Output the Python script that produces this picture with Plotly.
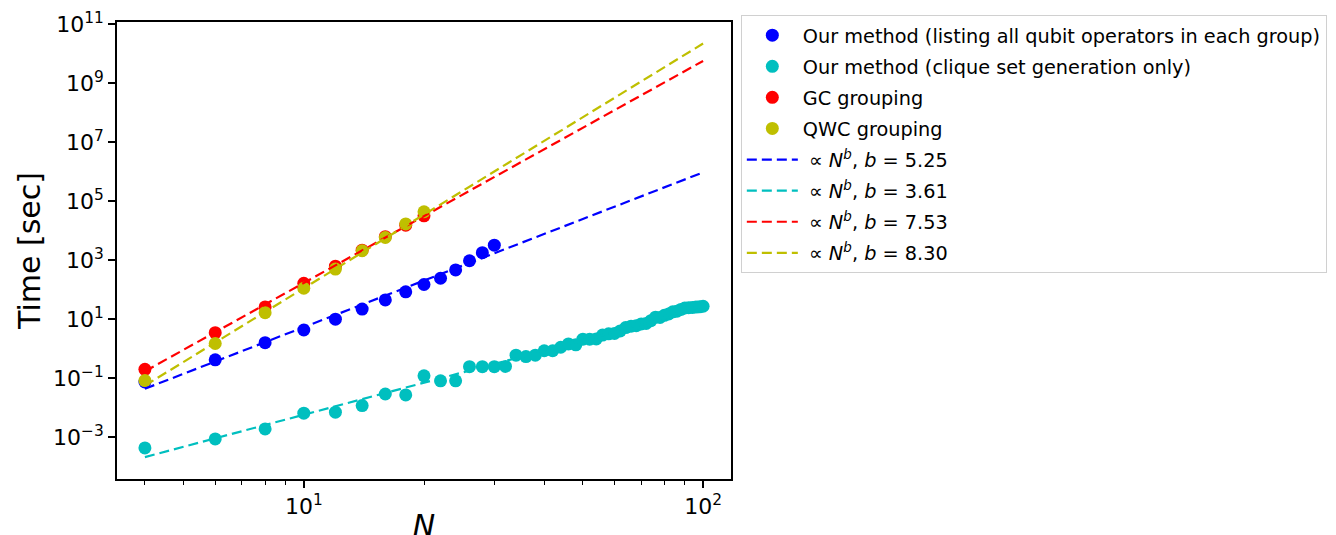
import numpy as np
import plotly.graph_objects as go

# ---------------- data ----------------
N_list = [4, 6, 8, 10, 12, 14, 16, 18, 20, 22, 24, 26, 28, 30]
t_list = [0.074, 0.42, 1.6, 4.3, 10, 22, 45, 85, 150, 245, 470, 960, 1800, 3250]

N_gc = [4, 6, 8, 10, 12, 14, 16, 18, 20]
t_gc = [0.20, 3.5, 26, 165, 630, 2200, 6300, 15500, 32000]

N_qwc = [4, 6, 8, 10, 12, 14, 16, 18, 20]
t_qwc = [0.083, 1.5, 16.6, 112, 500, 2100, 5900, 17000, 44000]

N_clique = [4, 6, 8, 10, 12, 14, 16, 18, 20, 22, 24, 26, 28, 30, 32, 34, 36, 38,
            40, 42, 44, 46, 48, 50, 52, 54, 56, 58, 60, 62, 64, 66, 68, 70, 72,
            74, 76, 78, 80, 82, 84, 86, 88, 90, 92, 94, 96, 98, 100]
t_clique = [4.3e-4, 8.7e-4, 1.9e-3, 6.5e-3, 7.0e-3, 0.0118, 0.029, 0.027, 0.12,
            0.081, 0.081, 0.245, 0.245, 0.245, 0.25, 0.60, 0.54, 0.60, 0.85,
            0.85, 1.12, 1.45, 1.35, 2.1, 2.1, 2.15, 2.9, 3.2, 3.3, 4.0, 5.2,
            5.8, 6.0, 6.9, 7.2, 8.9, 11.7, 11.5, 13.5, 15.1, 17.8, 18.6, 21.4,
            24.0, 24.5, 25.1, 25.7, 26.3, 27.5]

N_fit = [4, 6, 8, 10, 15, 20, 30, 40, 50, 60, 70, 80, 90, 100]
fit_b = [5.25, 3.61, 7.53, 8.30]
fit_loga = [-4.52, -5.85, -5.30, -6.25]   # log10 of prefactor
fit_labels = ["5.25", "3.61", "7.53", "8.30"]

x_tickvals = [10, 100]
x_ticktext = ["10<sup>1</sup>", "10<sup>2</sup>"]
x_minor = [4, 5, 6, 7, 8, 9, 20, 30, 40, 50, 60, 70, 80, 90]
y_tickvals = [1e-3, 1e-1, 1e1, 1e3, 1e5, 1e7, 1e9, 1e11]
y_ticktext = ["10<sup>\u22123</sup>", "10<sup>\u22121</sup>", "10<sup>1</sup>",
              "10<sup>3</sup>", "10<sup>5</sup>", "10<sup>7</sup>",
              "10<sup>9</sup>", "10<sup>11</sup>"]

# ---------------- styles ----------------
BLUE, CYAN, RED, YEL = "#0000ff", "#00bfbf", "#ff0000", "#bfbf00"
FONT = "DejaVu Sans"
MS = 13

fig = go.Figure()

scatter_sets = [
    (N_list, t_list, BLUE, "Our method (listing all qubit operators in each group)"),
    (N_clique, t_clique, CYAN, "Our method (clique set generation only)"),
    (N_gc, t_gc, RED, "GC grouping"),
    (N_qwc, t_qwc, YEL, "QWC grouping"),
]
for i, (xs, ys, c, name) in enumerate(scatter_sets):
    fig.add_trace(go.Scatter(x=xs, y=ys, mode="markers", name=name,
                             legendgroup=f"g{i}",
                             marker=dict(color=c, size=MS, line=dict(width=0))))

Nf = np.array(N_fit, dtype=float)
for j, (b, la, lab, c) in enumerate(zip(fit_b, fit_loga, fit_labels,
                                        [BLUE, CYAN, RED, YEL])):
    yf = 10 ** la * Nf ** b
    fig.add_trace(go.Scatter(
        x=Nf, y=yf, mode="lines", legendgroup=f"f{j}",
        name=f"\u00a0\u221d <i>N</i><sup><i>b</i></sup>, <i>b</i> = {lab}",
        line=dict(color=c, width=2.2, dash="10px,5px")))

axis_common = dict(type="log", showline=True, linecolor="black", linewidth=1.6,
                   mirror=True, ticks="outside", ticklen=7, tickwidth=1.6,
                   tickcolor="black", showgrid=False, zeroline=False,
                   automargin=False,
                   tickfont=dict(family=FONT, size=22, color="black"))

fig.update_xaxes(**axis_common,
                 range=[np.log10(4) - 0.0699, 2.0699],
                 tickmode="array", tickvals=x_tickvals, ticktext=x_ticktext,
                 minor=dict(tickvals=x_minor, ticks="outside", ticklen=4,
                            tickwidth=1.2, tickcolor="black", showgrid=False),
                 title=dict(text="<i>N</i>", font=dict(family=FONT, size=30,
                                                       color="black"),
                            standoff=0))
fig.update_yaxes(**axis_common,
                 range=[-4.42, 11.08],
                 tickmode="array", tickvals=y_tickvals, ticktext=y_ticktext,
                 title=dict(text="Time [sec]", font=dict(family=FONT, size=30,
                                                         color="black"),
                            standoff=4))

# page body has an 8px default margin, so margins are reduced by 8px;
# the figure is a bit wider than the window so the legend box runs off the
# right edge, as in the reference
fig.update_layout(
    width=1360, height=535,
    margin=dict(l=109, r=637, t=14, b=64, autoexpand=False),
    plot_bgcolor="white", paper_bgcolor="white",
    font=dict(family=FONT, size=20, color="black"),
    showlegend=True,
    legend=dict(x=1.016, y=1.015, xanchor="left", yanchor="top",
                bgcolor="white", bordercolor="#d0d0d0", borderwidth=1,
                font=dict(family=FONT, size=19.3, color="black"),
                tracegroupgap=3, itemwidth=51),
)

fig.write_html("out.html")
